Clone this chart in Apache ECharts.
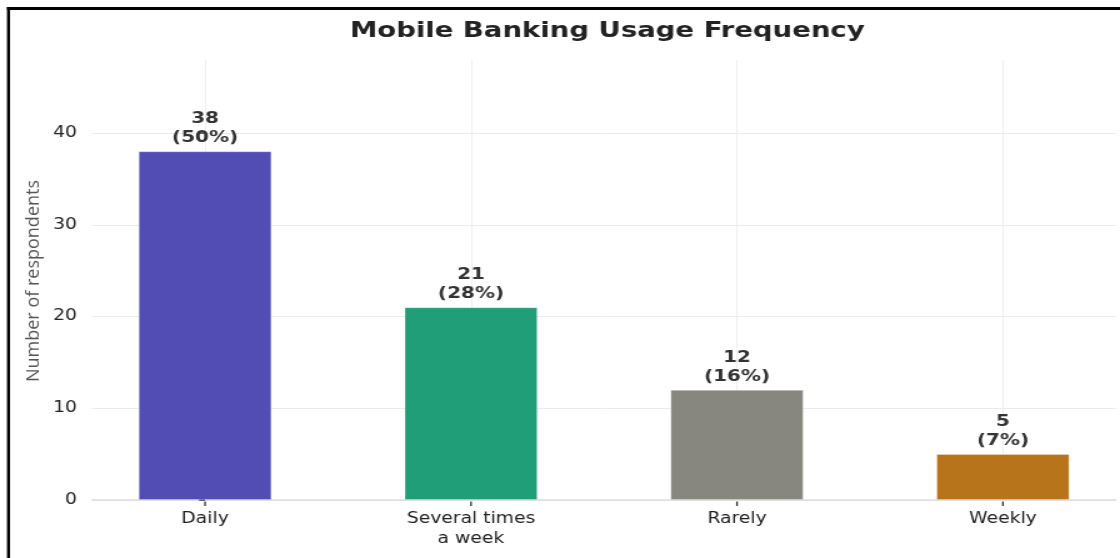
<!DOCTYPE html>
<html>
<head>
<meta charset="utf-8">
<script src="https://cdn.jsdelivr.net/npm/echarts@6/dist/echarts.min.js"></script>
<style>
html,body{margin:0;padding:0;background:#fff;overflow:hidden;width:1120px;height:558px}
#c{width:896px;height:558px;transform:scaleX(1.25);transform-origin:0 0}
</style>
</head>
<body>
<div id="c"></div>
<script>
const categories = ['Daily', 'Several times\na week', 'Rarely', 'Weekly'];
const counts = [38, 21, 12, 5];
const percents = [50, 28, 16, 7];
const colors = ['#524CB5', '#1F9E77', '#87877F', '#B8741A'];
const yTicks = [0, 10, 20, 30, 40];
const xPositions = [0, 1, 2, 3];

const S = 1.25; // horizontal stretch of the picture
const chart = echarts.init(document.getElementById('c'), null, {renderer: 'canvas'});
const font = 'DejaVu Sans';
chart.setOption({
  animation: false,
  backgroundColor: '#fff',
  title: {
    text: 'Mobile Banking Usage Frequency',
    left: 601 / S, top: 15, textAlign: 'center',
    textStyle: {fontFamily: font, fontWeight: 'bold', fontSize: 22, color: '#222'}
  },
  grid: {left: 92 / S, right: 896 - 1116 / S, top: 60, bottom: 58},
  xAxis: {
    type: 'value', min: -0.425, max: 3.425, minInterval: 1, maxInterval: 1,
    axisLine: {show: true, lineStyle: {color: '#dddddd', width: 1.5}},
    axisTick: {show: false},
    axisLabel: {showMinLabel: false, showMaxLabel: false, fontFamily: font, fontSize: 15, color: '#222', margin: 9, lineHeight: 20,
      formatter: v => (Number.isInteger(v) && xPositions.indexOf(v) >= 0 ? categories[v] : '')},
    splitLine: {show: true, showMinLine: false, showMaxLine: false, lineStyle: {color: '#ebebeb', width: 0.8}}
  },
  yAxis: {
    type: 'value', min: 0, max: 47.96, interval: yTicks[1] - yTicks[0],
    axisLine: {show: false},
    axisTick: {show: true, length: 6 / S, lineStyle: {color: '#333', width: 1.5}},
    axisLabel: {showMaxLabel: false, fontFamily: font, fontSize: 15, color: '#222', margin: 12,
      formatter: v => (yTicks.indexOf(v) >= 0 ? String(v) : '')},
    splitLine: {show: true, showMaxLine: false, lineStyle: {color: '#ebebeb', width: 1}}
  },
  graphic: [
    {type: 'line', shape: {x1: 8.5 / S, y1: 7, x2: 8.5 / S, y2: 600}, style: {stroke: '#000', lineWidth: 3 / S}, z: 100},
    {type: 'line', shape: {x1: 7 / S, y1: 8.5, x2: 1200, y2: 8.5}, style: {stroke: '#000', lineWidth: 3}, z: 100},
    {type: 'text', x: 33 / S, y: 281, rotation: Math.PI / 2, scaleY: 1 / S,
      style: {text: 'Number of respondents', fontFamily: 'Open Sans', fontSize: 18, fill: '#555',
        align: 'center', verticalAlign: 'middle'}}
  ],
  series: [{
    type: 'bar', barWidth: 133 / S,
    data: counts.map((v, i) => ({value: [xPositions[i], v], itemStyle: {color: colors[i], borderColor: 'rgba(255,255,255,0.35)', borderWidth: 0.8}})),
    label: {
      show: true, position: 'top', distance: 4,
      fontFamily: font, fontWeight: 'bold', fontSize: 16, color: '#333', lineHeight: 19,
      formatter: p => counts[p.dataIndex] + '\n(' + percents[p.dataIndex] + '%)'
    }
  }, {
    // x-axis tick marks at the category positions
    type: 'custom', silent: true, clip: false, z: 5,
    data: xPositions.map(x => [x, 0]),
    encode: {x: 0, y: 1},
    renderItem: (params, api) => {
      const p = api.coord([api.value(0), 0]);
      return {type: 'line', shape: {x1: p[0], y1: p[1] + 1.5, x2: p[0], y2: p[1] + 6},
        style: {stroke: '#333', lineWidth: 1.3}};
    }
  }]
});
</script>
</body>
</html>
